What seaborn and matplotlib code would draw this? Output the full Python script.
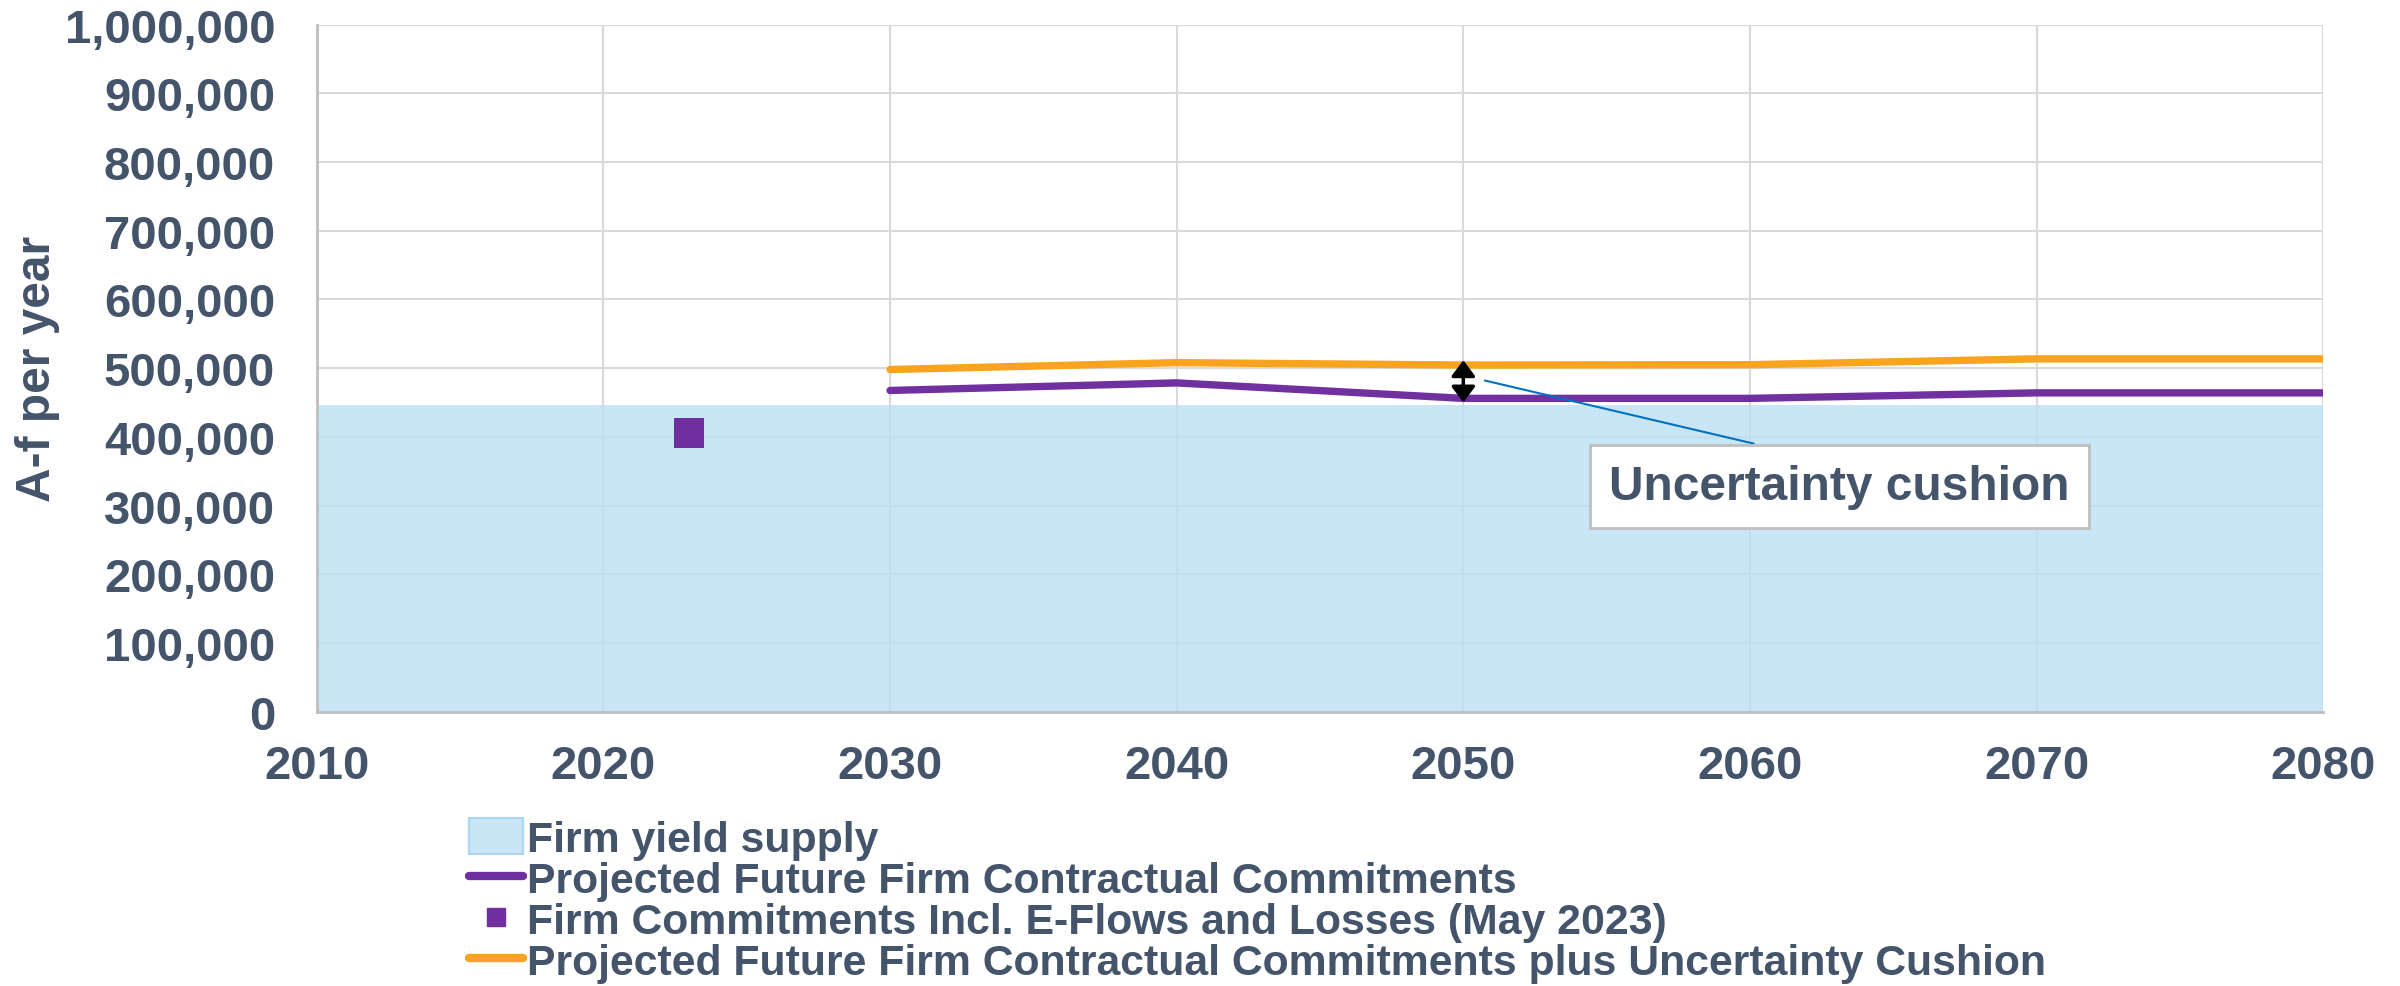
import seaborn as sns
import matplotlib.pyplot as plt
from matplotlib.patches import Patch
from matplotlib.lines import Line2D
from matplotlib.ticker import FuncFormatter

# data
supply_years = [2010, 2080]
firm_yield_supply = [447000, 447000]

proj_years = [2030, 2040, 2050, 2060, 2070, 2080]
projected_commitments = [467500, 478500, 456000, 456000, 464000, 464000]
projected_plus_cushion = [498000, 508000, 504500, 505000, 513500, 513500]

current_year = [2023]
current_commitments = [406000]

x_ticks = [2010, 2020, 2030, 2040, 2050, 2060, 2070, 2080]
y_ticks = [0, 100000, 200000, 300000, 400000, 500000, 600000, 700000, 800000, 900000, 1000000]

TEXT = "#44546A"
PURPLE = "#7030A0"
ORANGE = "#F9A31E"
FILL = "#BBE0F4"

sns.set_style("white")
plt.rcParams['font.family'] = ['Liberation Sans', 'DejaVu Sans']
plt.rcParams['font.weight'] = 'bold'

fig, ax = plt.subplots(figsize=(24, 9.87), dpi=100)
fig.subplots_adjust(left=0.132, right=0.968, top=0.974, bottom=0.278)

ax.grid(True, color="#D9D9D9", linewidth=1.5)
ax.set_axisbelow(True)

ax.fill_between(supply_years, 0, firm_yield_supply, color=FILL, alpha=0.8, linewidth=0, zorder=1)
sns.lineplot(x=proj_years, y=projected_commitments, color=PURPLE, linewidth=5.3,
             solid_capstyle='round', ax=ax, zorder=3)
sns.lineplot(x=proj_years, y=projected_plus_cushion, color=ORANGE, linewidth=5.3,
             solid_capstyle='round', ax=ax, zorder=3)
sns.scatterplot(x=current_year, y=current_commitments, color=PURPLE, marker='s', s=480,
                linewidth=0, ax=ax, zorder=4)

# cushion arrow at 2050
i50 = proj_years.index(2050)
ax.annotate('', xy=(2050, projected_plus_cushion[i50] + 7000), xytext=(2050, projected_commitments[i50] - 6000),
            arrowprops=dict(arrowstyle='<|-|>,head_length=0.6,head_width=0.45', color='black', lw=2.5,
                            mutation_scale=16, shrinkA=0, shrinkB=0),
            zorder=5)
ax.annotate('Uncertainty cushion', xy=(2050.75, 482000), xytext=(2055.1, 328000),
            ha='left', va='center', fontsize=34.5, color=TEXT, fontweight='bold',
            bbox=dict(boxstyle='square,pad=0.4', fc='white', ec='#BFBFBF', lw=2),
            arrowprops=dict(arrowstyle='-', color='#0070C0', lw=1.5, relpos=(0.5, 1.0),
                            shrinkA=0, shrinkB=0),
            zorder=6)

ax.set_xlim(2010, 2080)
ax.set_ylim(0, 1000000)
ax.set_xticks(x_ticks)
ax.set_yticks(y_ticks)
ax.yaxis.set_major_formatter(FuncFormatter(lambda v, p: f"{int(v):,}"))
ax.tick_params(axis='both', which='both', direction='out', length=10, width=2, color="#BFBFBF",
               labelsize=34, labelcolor=TEXT)
ax.tick_params(axis='y', pad=20)
ax.tick_params(axis='x', pad=13)
for lab in ax.get_xticklabels() + ax.get_yticklabels():
    lab.set_fontweight('bold')

for side in ['top', 'right']:
    ax.spines[side].set_visible(False)
for side in ['left', 'bottom']:
    ax.spines[side].set_color("#BFBFBF")
    ax.spines[side].set_linewidth(2)

ax.set_ylabel('A-f per year', fontsize=34.5, color=TEXT, fontweight='bold', labelpad=3)
ax.set_xlabel('')

handles = [
    Patch(facecolor="#C9E6F6", edgecolor="#A9D6F0", linewidth=1.5),
    Line2D([0], [0], color=PURPLE, lw=6, solid_capstyle='round'),
    Line2D([0], [0], color=PURPLE, lw=0, marker='s', markersize=13),
    Line2D([0], [0], color=ORANGE, lw=6, solid_capstyle='round'),
]
labels = [
    'Firm yield supply',
    'Projected Future Firm Contractual Commitments',
    'Firm Commitments Incl. E-Flows and Losses (May 2023)',
    'Projected Future Firm Contractual Commitments plus Uncertainty Cushion',
]
leg = fig.legend(handles, labels, loc='upper left', bbox_to_anchor=(0.1955, 0.17), frameon=False,
                 fontsize=30.8, handlelength=1.25, handleheight=0.9, handletextpad=0.1,
                 labelspacing=-0.01, borderpad=0, borderaxespad=0)
for t in leg.get_texts():
    t.set_color(TEXT)
    t.set_fontweight('bold')

fig.savefig('out.png', dpi=100)
